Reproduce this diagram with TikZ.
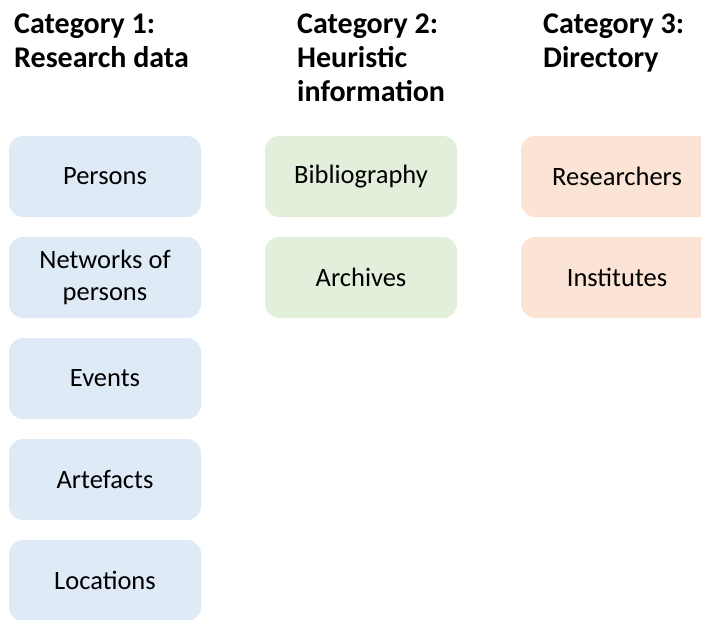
\documentclass[tikz,border=0pt]{standalone}
\usepackage{fontspec}
\setmainfont{Carlito}
\usepackage{xcolor}
\usepackage{tikz}
\usetikzlibrary{positioning}

\definecolor{dataBlue}{RGB}{222,234,246}
\definecolor{heurGreen}{RGB}{226,239,218}
\definecolor{dirPeach}{RGB}{251,228,214}

\begin{document}
\begin{tikzpicture}[
  x=1pt, y=-1pt,
  block/.style={rectangle, rounded corners=14pt, minimum width=192pt, minimum height=81pt, align=center, font=\fontsize{26.5}{32}\selectfont},
  head/.style={anchor=base west, align=left, inner sep=0pt, font=\bfseries\fontsize{30}{34}\selectfont},
  node distance=101pt
]
\clip (0,0) rectangle (701,619);

% headers, anchored at the baseline of their last line
\node[head] (cat1) at (14,67) {Category 1:\\Research data};
\node[head] (cat2) at (297,101) {Category 2:\\Heuristic\\information};
\node[head] (cat3) at (543,67) {Category 3:\\Directory};

\node[block, fill=dataBlue] (persons) at (105,176.5) {Persons};
\node[block, fill=dataBlue, below of=persons] (networks) {Networks of\\persons};
\node[block, fill=dataBlue, below of=networks] (events) {Events};
\node[block, fill=dataBlue, below of=events] (artefacts) {Artefacts};
\node[block, fill=dataBlue, below of=artefacts] (locations) {Locations};

\node[block, fill=heurGreen, right of=persons, node distance=256pt] (biblio) {Bibliography};
\node[block, fill=heurGreen, below of=biblio] (archives) {Archives};

\node[block, fill=dirPeach, right of=biblio, node distance=256pt] (researchers) {Researchers};
\node[block, fill=dirPeach, below of=researchers] (institutes) {Institutes};
\end{tikzpicture}
\end{document}
